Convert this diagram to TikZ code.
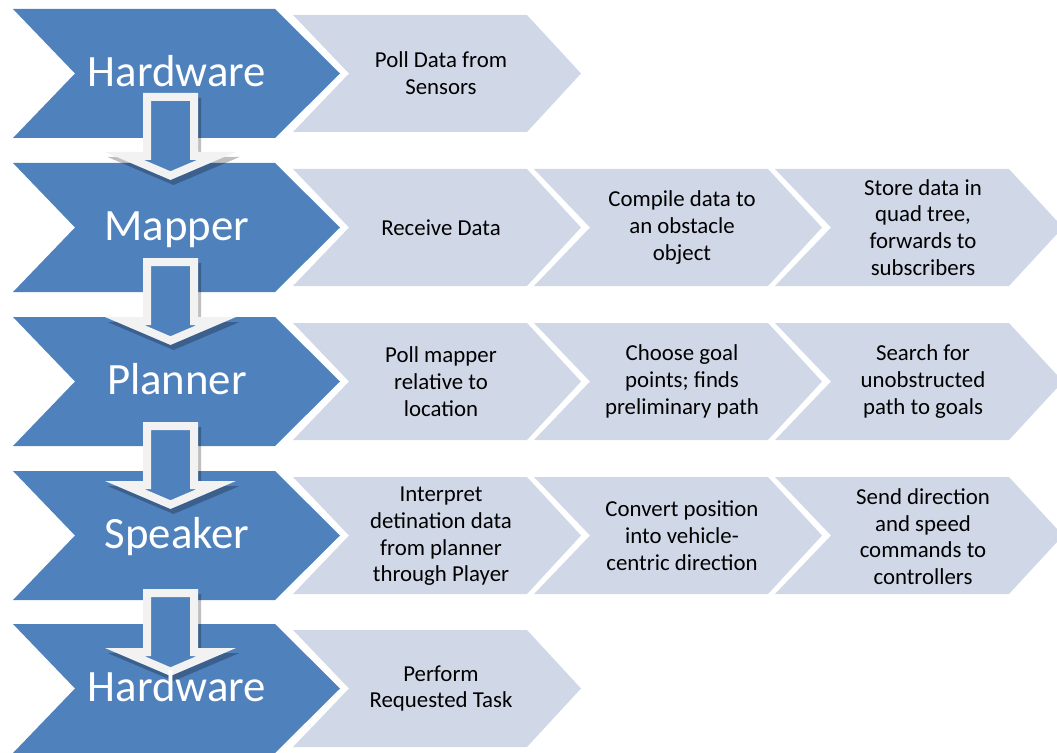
\documentclass[tikz,border=0pt]{standalone}
\usepackage{fontspec}
\setmainfont{Carlito}
\definecolor{stageblue}{HTML}{4F81BD}
\definecolor{taskblue}{HTML}{D0D8E8}
\definecolor{arrowgray}{HTML}{F2F2F2}
\begin{document}
\begin{tikzpicture}[x=0.02cm,y=-0.02cm,
  stage/.pic={\fill[stageblue] (0,-64.5) -- (262,-64.5) -- (327,0) -- (262,64.5) -- (0,64.5) -- (62,0) -- cycle;},
  task/.pic={\fill[taskblue] (0,-58.5) -- (234,-58.5) -- (288,0) -- (234,58.5) -- (0,58.5) -- (56,0) -- cycle;},
  down arrow/.pic={%
    \fill[black,opacity=.25] (-24.5,5) -- (30.5,5) -- (30.5,64) -- (69,64) -- (3,92) -- (-63,64) -- (-24.5,64) -- cycle;
    \filldraw[fill=stageblue,draw=arrowgray,line width=0.16cm] (-23.5,4) -- (23.5,4) -- (23.5,63) -- (45.9,63) -- (0,82.6) -- (-45.9,63) -- (-23.5,63) -- cycle;},
  stage node/.style={text=white,font=\fontsize{25.5}{30}\selectfont,text height=0.7em,text depth=0.2em,inner sep=0pt},
  task node/.style={align=center,font=\fontsize{13}{15.2}\selectfont,inner sep=0pt}]%
\useasboundingbox (0,0) rectangle (1057,753);
\path (13,73.5) pic {stage};
\path (13,227.5) pic {stage};
\path (13,381.5) pic {stage};
\path (13,535.5) pic {stage};
\path (13,688.5) pic {stage};
\path (293,73.5) pic {task};
\path (293,227.5) pic {task};
\path (534,227.5) pic {task};
\path (775,227.5) pic {task};
\path (293,381.5) pic {task};
\path (534,381.5) pic {task};
\path (775,381.5) pic {task};
\path (293,535.5) pic {task};
\path (534,535.5) pic {task};
\path (775,535.5) pic {task};
\path (293,688.5) pic {task};
\path (170.5,93) pic {down arrow};
\path (170.5,258) pic {down arrow};
\path (170.5,422) pic {down arrow};
\path (170.5,589) pic {down arrow};
\node[stage node] (hw1) at (177,82.5) {Hardware};
\node[stage node] (map) at (177,236.5) {Mapper};
\node[stage node] (plan) at (177,390.5) {Planner};
\node[stage node] (speak) at (177,544.5) {Speaker};
\node[stage node] (hw2) at (177,697.5) {Hardware};
\node[task node] (poll) at (441,73.5) {Poll Data from\\Sensors};
\node[task node] (recv) at (441,227.5) {Receive Data};
\node[task node] (compile) at (682,227.5) {Compile data to\\an obstacle\\object};
\node[task node] (store) at (923,227.5) {Store data in\\quad tree,\\forwards to\\subscribers};
\node[task node] (pollmap) at (441,381.5) {Poll mapper\\relative to\\location};
\node[task node] (choose) at (682,381.5) {Choose goal\\points; finds\\preliminary path};
\node[task node] (search) at (923,381.5) {Search for\\unobstructed\\path to goals};
\node[task node] (interp) at (441,536.5) {Interpret\\detination data\\from planner\\through Player};
\node[task node] (convert) at (682,535.5) {Convert position\\into vehicle-\\centric direction};
\node[task node] (send) at (923,536.5) {Send direction\\and speed\\commands to\\controllers};
\node[task node] (perform) at (441,688.5) {Perform\\Requested Task};
\end{tikzpicture}
\end{document}
